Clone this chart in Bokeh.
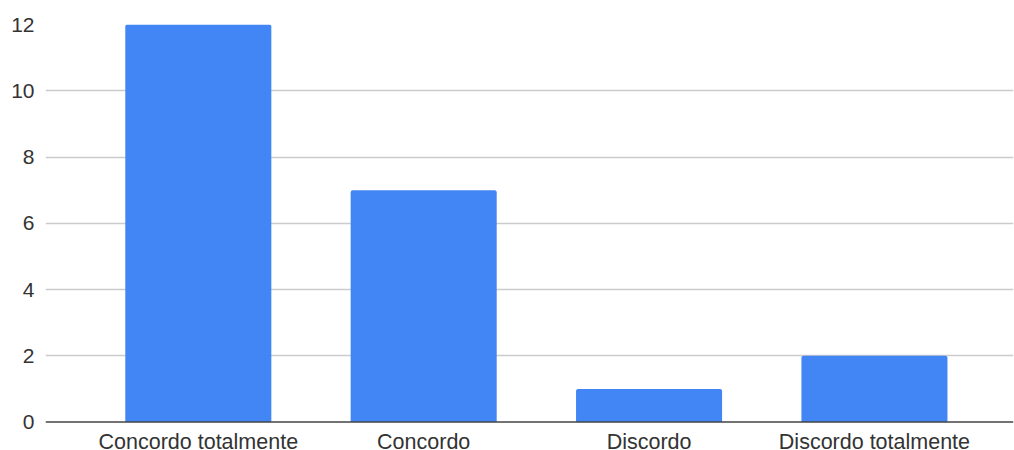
from bokeh.plotting import figure
from bokeh.models import ColumnDataSource, FixedTicker, Range1d, Span
from bokeh.core.properties import value
from bokeh.embed import file_html
from bokeh.resources import INLINE

# Survey responses per answer option
categories = ["Concordo totalmente", "Concordo", "Discordo", "Discordo totalmente"]
counts = [12, 7, 1, 2]
y_ticks = [0, 2, 4, 6, 8, 10, 12]

positions = list(range(len(categories)))
source = ColumnDataSource(data=dict(x=positions, count=counts, label=categories,
                                    base=[0] * len(categories)))

font = "Liberation Sans"

# The plotting area reaches below zero so the category names fit under the baseline
p = figure(
    width=1014, height=450,
    x_range=Range1d(-0.678, 3.617),
    y_range=Range1d(-0.86, 12),
    output_backend="svg",
    toolbar_location=None,
    x_axis_type=None,
    min_border_left=45, min_border_right=1,
    min_border_top=24, min_border_bottom=0,
)
p.outline_line_color = None
p.background_fill_color = "white"
p.border_fill_color = "white"

p.vbar(x="x", top="count", bottom="base", width=0.648, source=source,
       fill_color="#4285F4", line_color=None,
       border_radius=(2, 2, 0, 0))

# Baseline at zero
p.add_layout(Span(location=0, dimension="width", line_color="#444444", line_width=1.5))

# Category names under each bar
p.text(x="x", y="base", text="label", source=source,
       y_offset=20, text_align="center", text_baseline="alphabetic",
       text_font=value(font), text_font_size="21.5px", text_color="#333333")

p.yaxis.ticker = FixedTicker(ticks=y_ticks)
p.yaxis.axis_line_color = None
p.yaxis.major_tick_line_color = None
p.yaxis.minor_tick_line_color = None
p.yaxis.major_label_standoff = 5
p.yaxis.major_label_text_font = font
p.yaxis.major_label_text_font_size = "21px"
p.yaxis.major_label_text_color = "#333333"

p.ygrid.ticker = FixedTicker(ticks=y_ticks[1:])
p.ygrid.grid_line_color = "#cccccc"
p.ygrid.grid_line_width = 1.5

open("out.html", "w").write(file_html(p, INLINE))
